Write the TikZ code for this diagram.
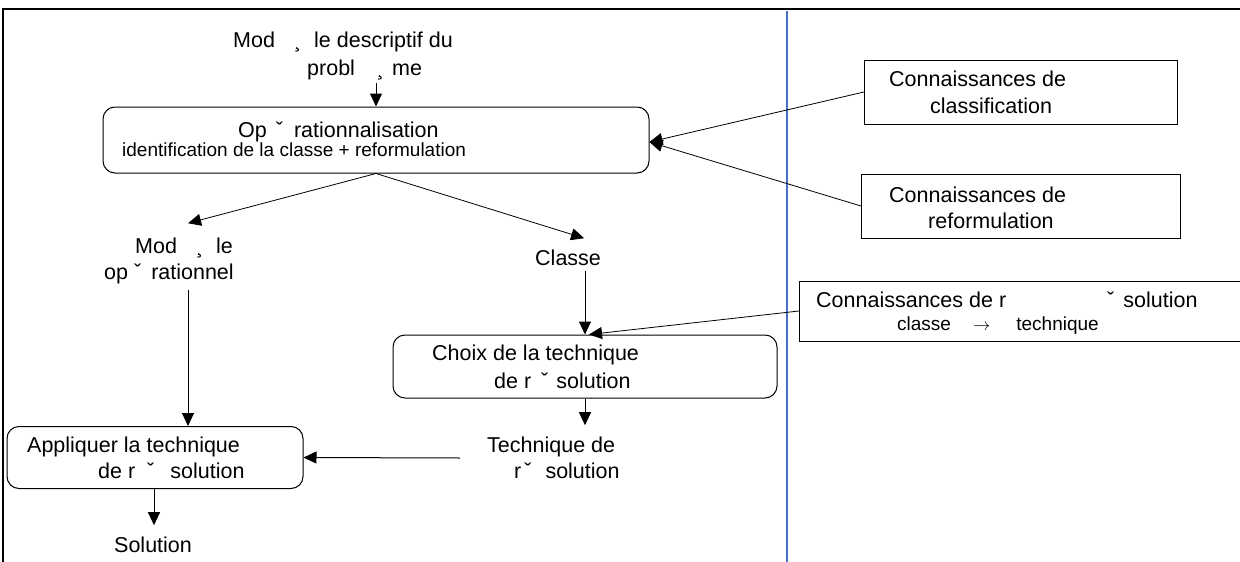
\documentclass[tikz,border=0pt]{standalone}
\usepackage{fontspec}
\setmainfont{Liberation Sans}
\usetikzlibrary{arrows.meta}
\definecolor{sepblue}{RGB}{68,114,196}
\begin{document}
\begin{tikzpicture}[x=1pt,y=-1pt,
  txt/.style={inner sep=0pt,anchor=base west,font=\fontsize{21.5}{26}\selectfont},
  smalltxt/.style={inner sep=0pt,anchor=base west,font=\fontsize{19}{23}\selectfont},
  rbox/.style={draw,line width=1pt,rounded corners=12pt,inner sep=0pt},
  sbox/.style={draw,line width=1pt,inner sep=0pt},
  arr/.style={line width=1pt,-{Triangle[length=13pt,width=12pt]}},
  thinarr/.style={line width=0.8pt,-{Triangle[length=13pt,width=12pt]}}]
\useasboundingbox (0,0) rectangle (1240,562);
% frame
\draw[line width=2.5pt] (3,9) -- (1240,9);
\draw[line width=2pt] (3,8) -- (3,562);
\draw[sepblue,line width=1.2pt] (787,11) -- (787,562);

% boxes
\node[rbox,minimum width=546pt,minimum height=66pt] (oper) at (376,140) {};
\node[sbox,minimum width=313pt,minimum height=64pt] (classif) at (1021,92) {};
\node[sbox,minimum width=319pt,minimum height=64pt] (reform) at (1021,206) {};
\node[sbox,minimum width=460pt,minimum height=60pt,anchor=west] (reso) at (799,311) {};
\node[rbox,minimum width=384pt,minimum height=63pt] (choix) at (585,366.5) {};
\node[rbox,minimum width=296pt,minimum height=62pt] (appl) at (155,457.5) {};

% texts
\node[txt] (desc1) at (233,47) {Mod\hspace{19pt}¸\hspace{13pt}le descriptif du};
\node[txt] (desc2) at (307,75) {probl\hspace{22pt}¸\hspace{8pt}me};
\node[txt] (oper1) at (238,137) {Op\hspace{9pt}ˇ\hspace{11pt}rationnalisation};
\node[smalltxt] (oper2) at (122,156) {identification de la classe + reformulation};
\node[txt] (classif1) at (889,86) {Connaissances de};
\node[txt] (classif2) at (930,113) {classification};
\node[txt] (reform1) at (889,202) {Connaissances de};
\node[txt] (reform2) at (928,228) {reformulation};
\node[txt] (modop1) at (135,253) {Mod\hspace{19pt}¸\hspace{13pt}le};
\node[txt] (modop2) at (104,279) {op\hspace{6pt}ˇ\hspace{10pt}rationnel};
\node[txt] (classe) at (535,265) {Classe};
\node[txt] (reso1) at (816,307) {Connaissances de r\hspace{101pt}ˇ\hspace{9pt}solution};
\node[smalltxt] (reso2) at (897,330) {classe\hspace{22pt}$\rightarrow$\hspace{26pt}technique};
\node[txt] (choix1) at (432,360) {Choix de la technique};
\node[txt] (choix2) at (494,388) {de r\hspace{10pt}ˇ\hspace{8pt}solution};
\node[txt] (tech1) at (487,452) {Technique de};
\node[txt] (tech2) at (514,478) {r\hspace{3pt}ˇ\hspace{14pt}solution};
\node[txt] (appl1) at (27,452) {Appliquer la technique};
\node[txt] (appl2) at (98,478) {de r\hspace{12pt}ˇ\hspace{16pt}solution};
\node[txt] (sol) at (114,552) {Solution};

% helper coordinates
\coordinate (cx) at (585,0);
\coordinate (mx) at (188,0);
\coordinate (sx) at (154,0);
\coordinate (tstart) at (460,458);

% connectors
\draw[arr] ([yshift=-3pt]desc2.south -| oper.north) -- (oper.north);
\draw[thinarr] (oper.south) -- ([xshift=4pt,yshift=14pt]modop1.north);
\draw[thinarr] (oper.south) -- ([xshift=16pt,yshift=11pt]classe.north);
\draw[arr] ([yshift=-6pt]classe.south -| cx) -- (choix.north -| cx);
\draw[thinarr] (reso.west) -- ([xshift=4pt]choix.north -| cx);
\draw[thinarr] (classif.west) -- ([yshift=-2pt]oper.east);
\draw[thinarr] (reform.west) -- ([yshift=-2pt]oper.east);
\draw[arr] ([yshift=-6pt]modop2.south -| mx) -- (appl.north -| mx);
\draw[arr] (choix.south -| cx) -- ([yshift=11pt]tech1.north -| cx);
\draw[arr] (tstart) -- (appl.east);
\draw[arr] (appl.south -| sx) -- ([yshift=11pt]sol.north -| sx);
\end{tikzpicture}
\end{document}
